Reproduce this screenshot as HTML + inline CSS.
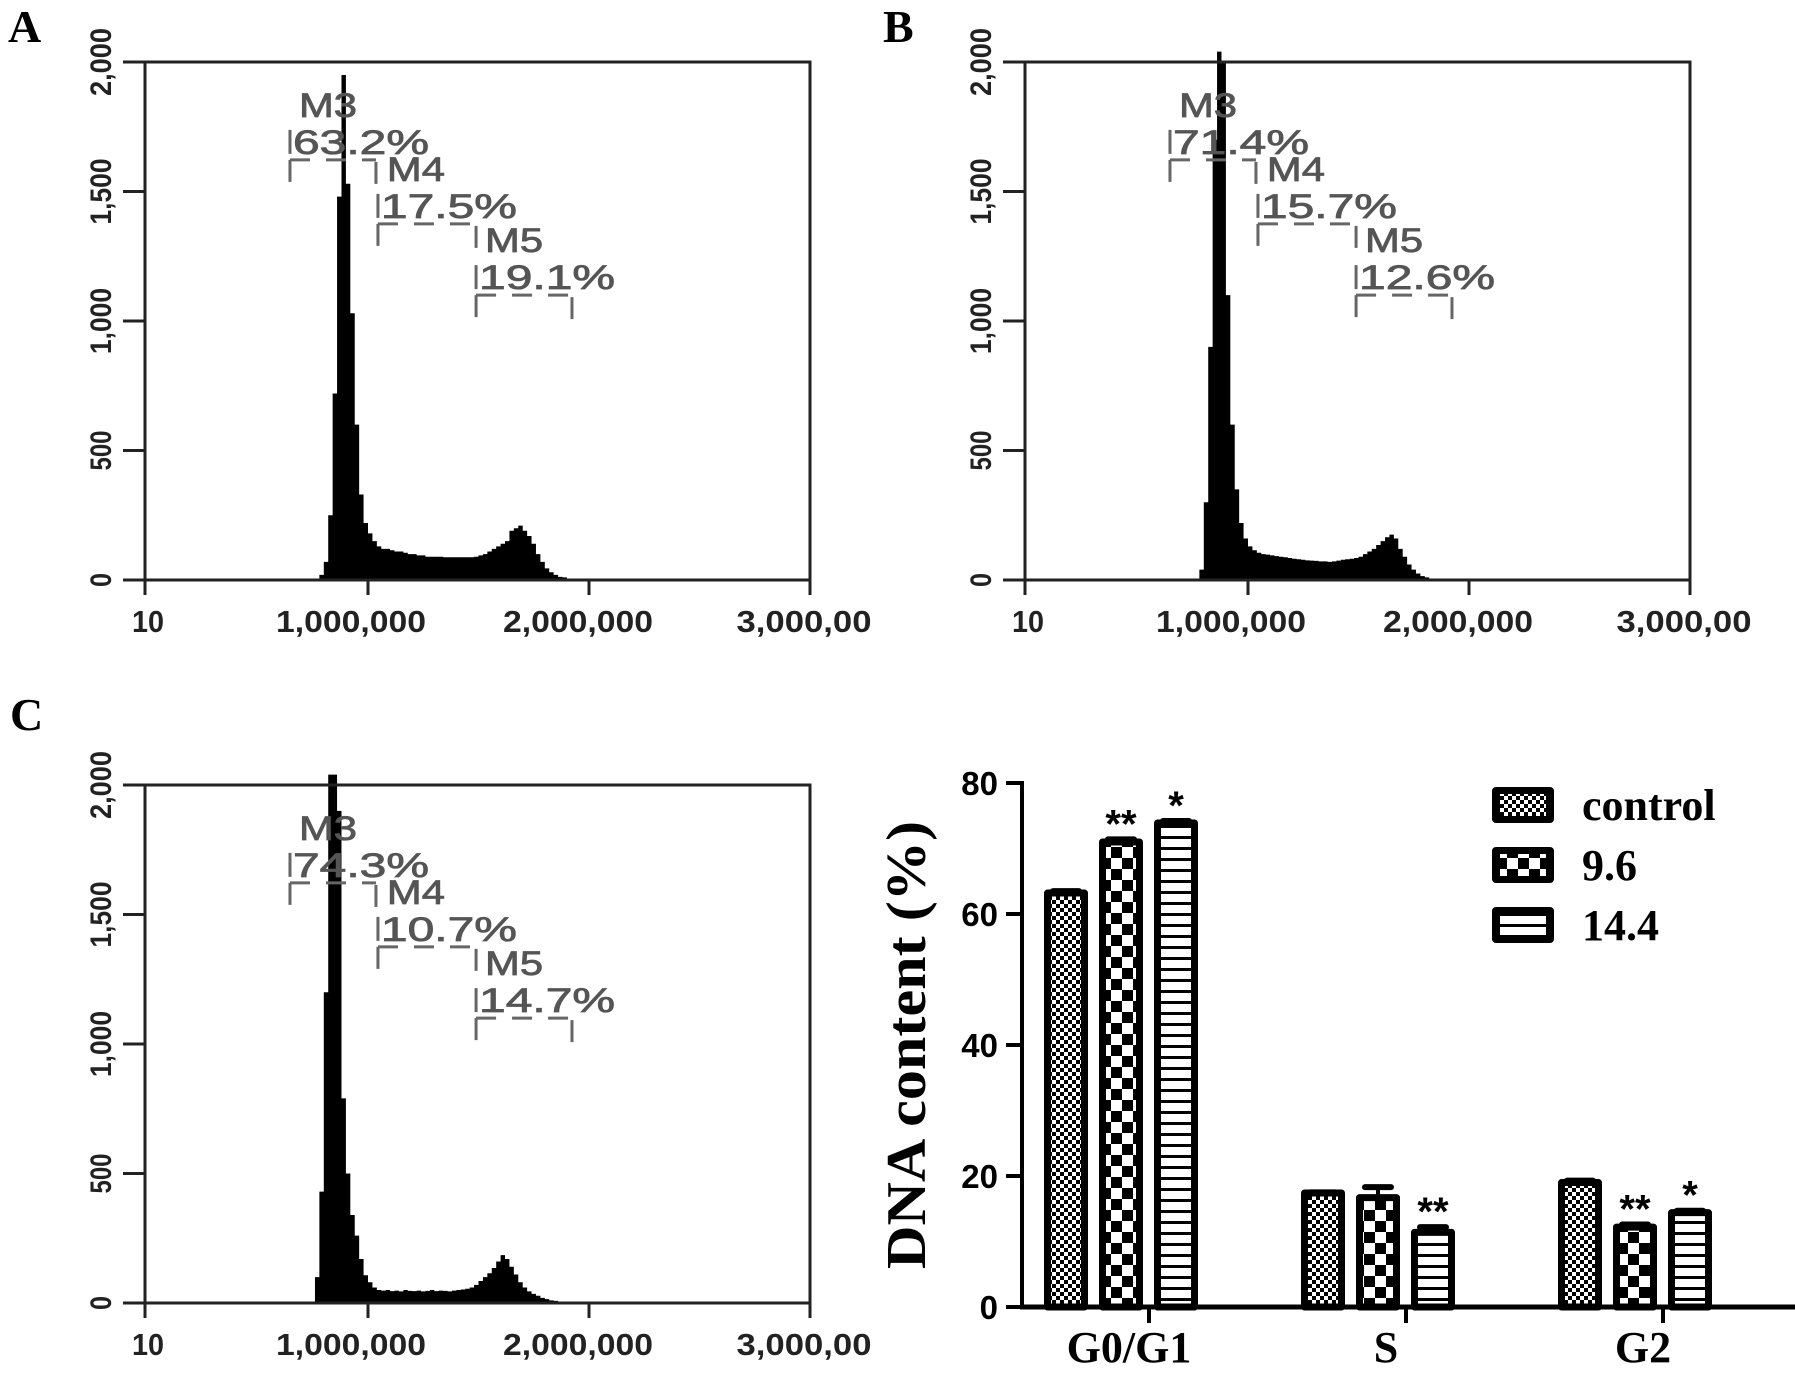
<!DOCTYPE html>
<html>
<head>
<meta charset="utf-8">
<style>
  html,body{margin:0;padding:0;background:#fff;}
  svg{display:block;}
</style>
</head>
<body>
<svg id="fig" xmlns="http://www.w3.org/2000/svg" width="1795" height="1385" viewBox="0 0 1795 1385">
  <defs>
    <pattern id="patControl" width="8" height="8" patternUnits="userSpaceOnUse">
      <rect width="8" height="8" fill="#fff"/>
      <rect x="0" y="0" width="4" height="4" fill="#000"/>
      <rect x="4" y="4" width="4" height="4" fill="#000"/>
    </pattern>
    <pattern id="pat96" width="22" height="22" patternUnits="userSpaceOnUse">
      <rect width="22" height="22" fill="#fff"/>
      <rect x="0" y="0" width="11" height="11" fill="#000"/>
      <rect x="11" y="11" width="11" height="11" fill="#000"/>
    </pattern>
    <pattern id="pat144" width="11" height="11" patternUnits="userSpaceOnUse">
      <rect width="11" height="11" fill="#fff"/>
      <rect x="0" y="0" width="11" height="3" fill="#000"/>
    </pattern>
  </defs>
  <g id="root"></g>
</svg>
<script>
// ---------- Histogram data (counts per 0.02M bin) ----------
const binWidthM = 0.02;
const histStartA = 0.76;
const histA = [5,20,70,250,720,1480,1950,1530,1030,600,330,220,180,150,130,120,120,115,110,110,105,100,100,95,95,90,90,90,90,88,88,88,88,88,88,88,90,95,100,110,120,130,140,150,190,200,210,190,170,140,100,70,45,30,20,12,10,6,4,2,0];
const histStartB = 0.76;
const histB = [5,40,300,900,1700,2040,2000,1100,600,350,220,160,130,115,105,100,98,95,92,90,88,85,82,80,78,76,75,74,72,72,70,72,75,78,80,82,85,90,100,110,120,135,150,165,175,160,120,90,60,40,25,15,10,6,4,2,0];
const histStartC = 0.74;
const histC = [5,100,430,1200,2040,2040,1900,790,500,340,260,170,107,80,60,50,48,50,46,48,45,50,47,46,48,45,47,50,46,48,47,45,48,50,52,55,60,70,85,100,115,135,160,185,170,140,110,80,60,45,35,28,20,15,10,8,5,3,0];
const yTicksHist = [0,500,1000,1500,2000];
const yTickLabelsHist = ["0","500","1,000","1,500","2,000"];
const xTicksHist = [0,1,2,3];
const xTickLabelsHist = ["10","1,000,000","2,000,000","3,000,00"];
const gateNames = ["M3","M4","M5"];
const gateStartM = [0.647,1.045,1.489];
const gateEndM = [1.036,1.489,1.923];
const gateLevel = [1622,1375,1100];
const pctA = ["63.2%","17.5%","19.1%"];
const pctB = ["71.4%","15.7%","12.6%"];
const pctC = ["74.3%","10.7%","14.7%"];

// ---------- Bar chart data ----------
const categories = ["G0/G1","S","G2"];
const seriesNames = ["control","9.6","14.4"];
const controlVals = [63.2,17.4,19.0];
const vals96 = [71.0,16.7,12.2];
const vals144 = [73.9,11.4,14.4];
const controlErr = [0.3,0.1,0.3];
const err96 = [0.4,1.6,0.4];
const err144 = [0.3,0.8,0.3];
const stars96 = ["**","","**"];
const stars144 = ["*","**","*"];
const barYTicks = [0,20,40,60,80];

const NS = "http://www.w3.org/2000/svg";
const root = document.getElementById('root');
function mk(tag, attrs, parent){
  const e = document.createElementNS(NS, tag);
  for (const k in attrs) e.setAttribute(k, attrs[k]);
  (parent||root).appendChild(e);
  return e;
}

// Panel letters
[["A",8,42],["B",883,42],["C",10,730]].forEach(function(p){
  const t = mk('text',{x:p[1],y:p[2],'font-family':'"Liberation Serif", serif','font-weight':'bold','font-size':'46'});
  t.textContent = p[0];
  
  
});

function drawHist(id, ox, oy, start, counts, pcts){
  const g = mk('g',{});
  
  
  const xs = function(m){ return ox + 2 + 221*m; };
  const ys = function(c){ return oy - c*0.259; };
  const top = ys(2000), right = xs(3);
  let d = 'M' + xs(start) + ' ' + oy;
  for (let i=0;i<counts.length;i++){
    const x0 = xs(start + i*binWidthM), x1 = xs(start + (i+1)*binWidthM);
    d += ' L' + x0.toFixed(2) + ' ' + ys(counts[i]).toFixed(2) + ' L' + x1.toFixed(2) + ' ' + ys(counts[i]).toFixed(2);
  }
  d += ' L' + xs(start + counts.length*binWidthM).toFixed(2) + ' ' + oy + ' Z';
  const h = mk('path',{d:d, fill:'#000'}, g);
  
  
  const box = mk('path',{d:'M'+ox+' '+oy+' L'+ox+' '+top+' L'+right+' '+top+' L'+right+' '+oy, fill:'none', stroke:'#222','stroke-width':'3'}, g);
  
  
  const xa = mk('line',{x1:ox-22,y1:oy,x2:right,y2:oy,stroke:'#222','stroke-width':'3'}, g);
  
  
  const ylen = [14,40,66,66,68];
  yTicksHist.forEach(function(v,i){
    const y = ys(v);
    mk('line',{x1:ox-22,y1:y,x2:ox,y2:y,stroke:'#222','stroke-width':'3'}, g);
    const t = mk('text',{x:0,y:0,transform:'translate('+(ox-34)+','+y+') rotate(-90)','text-anchor':'middle','font-family':'"Liberation Sans", sans-serif','font-weight':'bold','font-size':'30',fill:'#222',textLength:ylen[i],lengthAdjust:'spacingAndGlyphs'}, g);
    t.textContent = yTickLabelsHist[i];
    
    
  });
  const xlen = [32,150,150,135];
  const xoff = [3,-17,-11,-6];
  xTicksHist.forEach(function(v,i){
    const x = (i===0) ? ox : xs(v);
    mk('line',{x1:x,y1:oy,x2:x,y2:oy+15,stroke:'#222','stroke-width':'3'}, g);
    const t = mk('text',{x:x+xoff[i],y:oy+52,'text-anchor':'middle','font-family':'"Liberation Sans", sans-serif','font-weight':'bold','font-size':'31',fill:'#222',textLength:xlen[i],lengthAdjust:'spacingAndGlyphs'}, g);
    t.textContent = xTickLabelsHist[i];
    
    
  });
  gateNames.forEach(function(name,i){
    const x1 = xs(gateStartM[i]), x2 = xs(gateEndM[i]), yb = ys(gateLevel[i]);
    const gg = mk('g',{}, g);
    
    
    mk('line',{x1:x1,y1:yb,x2:x2,y2:yb,stroke:'#666','stroke-width':'3','stroke-dasharray':'20 16'}, gg);
    mk('line',{x1:x1,y1:yb-30,x2:x1,y2:yb+22,stroke:'#666','stroke-width':'3','stroke-dasharray':'24 6'}, gg);
    mk('line',{x1:x2,y1:yb+2,x2:x2,y2:yb+24,stroke:'#666','stroke-width':'3'}, gg);
    const p = mk('text',{x:x1+3,y:yb-6,'font-family':'"Liberation Sans", sans-serif','font-size':'34',fill:'#555',stroke:'#555','stroke-width':'0.8',textLength:'136',lengthAdjust:'spacingAndGlyphs'}, gg);
    p.textContent = pcts[i];
    
    
    const m = mk('text',{x:x1+9,y:yb-43,'font-family':'"Liberation Sans", sans-serif','font-size':'34',fill:'#555',stroke:'#555','stroke-width':'0.8',textLength:'58',lengthAdjust:'spacingAndGlyphs'}, gg);
    m.textContent = name;
    
    
  });
}
drawHist('a', 145, 580, histStartA, histA, pctA);
drawHist('b', 1025, 580, histStartB, histB, pctB);
drawHist('c', 145, 1303, histStartC, histC, pctC);

// ---------- Bar chart ----------
(function(){
  const g = mk('g',{});
  
  
  const y0 = 1307, pxPerUnit = 6.55, axisX = 1022;
  const ys = function(v){ return y0 - v*pxPerUnit; };
  const groupX = function(i){ return 1149 + i*257; };
  const offsets = [-83,-28,27];
  const fills = ['url(#patControl)','url(#pat96)','url(#pat144)'];
  const series = [controlVals, vals96, vals144];
  const errs = [controlErr, err96, err144];
  const stars = [null, stars96, stars144];
  const bw = 37;
  categories.forEach(function(cat,ci){
    for (let s=0;s<3;s++){
      const cx = groupX(ci) + offsets[s];
      const v = series[s][ci], e = errs[s][ci];
      const r = mk('rect',{x:cx-bw/2,y:ys(v),width:bw,height:y0-ys(v),fill:fills[s],stroke:'#000','stroke-width':'7','stroke-linejoin':'round'}, g);
      
      
      mk('line',{x1:cx,y1:ys(v),x2:cx,y2:ys(v+e),stroke:'#000','stroke-width':'4'}, g);
      const cap = mk('rect',{x:cx-16,y:ys(v+e)-3,width:32,height:6,rx:3,fill:'#000'}, g);
      
      
      if (stars[s] && stars[s][ci]){
        const t = mk('text',{x:cx,y:ys(v+e)-2,'text-anchor':'middle','font-family':'"Liberation Sans", sans-serif','font-weight':'bold','font-size':'40',fill:'#000'}, g);
        t.textContent = stars[s][ci];
        
        
      }
    }
    mk('line',{x1:groupX(ci),y1:y0,x2:groupX(ci),y2:y0+16,stroke:'#000','stroke-width':'4'}, g);
    const lbl = mk('text',{x:groupX(ci)-20,y:1362,'text-anchor':'middle','font-family':'"Liberation Serif", serif','font-weight':'bold','font-size':'44',fill:'#000'}, g);
    lbl.textContent = cat;
    
    
  });
  const xa = mk('line',{x1:axisX-2,y1:y0,x2:1795,y2:y0,stroke:'#000','stroke-width':'5'}, g);
  
  
  const ya = mk('line',{x1:axisX,y1:ys(80)-2,x2:axisX,y2:y0,stroke:'#000','stroke-width':'4'}, g);
  
  
  barYTicks.forEach(function(v){
    mk('line',{x1:1006,y1:ys(v),x2:axisX,y2:ys(v),stroke:'#000','stroke-width':'4'}, g);
    const t = mk('text',{x:998,y:ys(v)+12,'text-anchor':'end','font-family':'"Liberation Sans", sans-serif','font-weight':'bold','font-size':'33',fill:'#000'}, g);
    t.textContent = String(v);
    
    
  });
  const yt = mk('text',{x:0,y:0,transform:'translate(925,1045) rotate(-90)','text-anchor':'middle','font-family':'"Liberation Serif", serif','font-weight':'bold','font-size':'56',fill:'#000',textLength:'448',lengthAdjust:'spacingAndGlyphs'}, g);
  yt.textContent = 'DNA content (%)';
  
  
  const legY = [787,847,907];
  seriesNames.forEach(function(n,i){
    const lg = mk('g',{}, g);
    
    
    mk('rect',{x:1492,y:legY[i],width:62,height:36,rx:4,fill:'#000'}, lg);
    mk('rect',{x:1500,y:legY[i]+7,width:46,height:22,fill:fills[i]}, lg);
    const t = mk('text',{x:1582,y:legY[i]+33,'font-family':'"Liberation Serif", serif','font-weight':'bold','font-size':'44',fill:'#000'}, lg);
    t.textContent = n;
  });
})();
</script>
</body>
</html>
